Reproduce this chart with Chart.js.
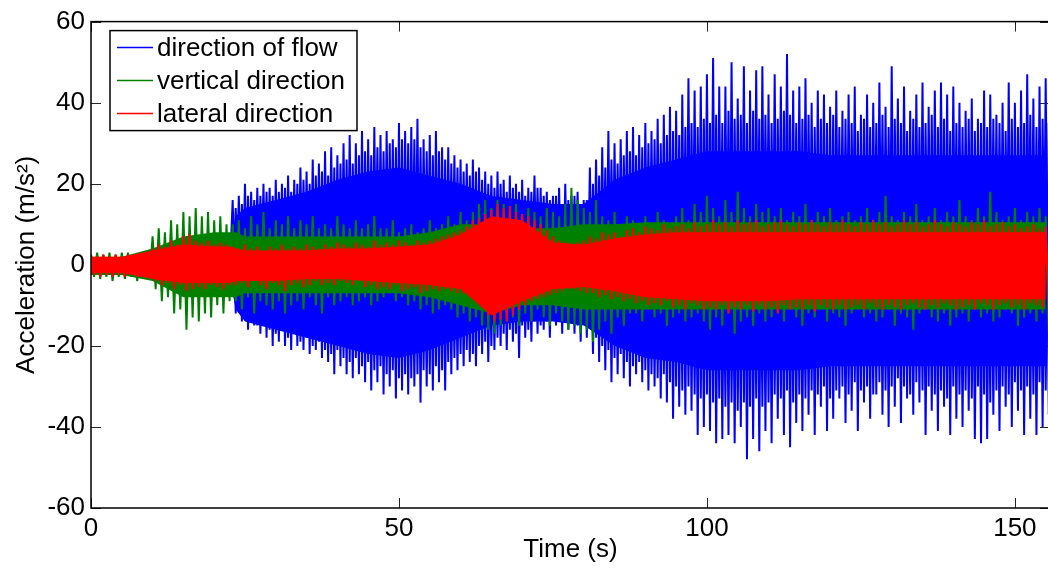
<!DOCTYPE html>
<html>
<head>
<meta charset="utf-8">
<title>Acceleration</title>
<script src="https://cdn.jsdelivr.net/npm/chart.js@4.4.1/dist/chart.umd.min.js"></script>
<style>
  html, body { margin: 0; padding: 0; background: #fff; overflow: hidden; }
  #wrap { width: 1048px; height: 569px; overflow: hidden; }
  canvas { display: block; }
</style>
</head>
<body>
<div id="wrap"><canvas id="accChart" width="1060" height="569"></canvas></div>
<script>
// Peak values, one per second (t = 0..155).
// "Hi" is the top of the oscillation at t, "Lo" the bottom half a second later.
const blueHi = [
  1.5,2,1.5,2,1.5,2,1.5,2,1.5,2,
  2,3,2.5,3,3.5,3,4,3.5,4,3.5,4,3.5,4,
  16,17,20,18,19,20,19,21,20,22,21,24,23,26,25,28,29,27,30,32,30,33,31,34,32,33,31,35,33,34,
  36,31,32,33,29,29,27,26,25,26,24,23,22,23,21,22,20,21,19,22,19,18,17,19,20,17,18,16,
  24,26,29,33,30,31,33,34,32,35,33,36,37,39,38,42,46,43,44,47,51,44,
  44,50,41,49,43,48,49,42,47,44,
  52,
  43,44,46,40,43,42,39,
  43,38,42,44,37,42,40,45,39,49,
  41,44,38,42,45,39,43,45,42,44,
  40,38,41,36,43,42,37,40,45,40,
  43,47,41,44,46
];
const blueLo = [
  -1.5,-2,-1.5,-2,-1.5,-2,-1.5,-2,-1.5,-2,
  -2,-3,-2.5,-3,-4,-3.5,-4,-3.5,-4,-3.5,-4,-3.5,-3,
  -12,-14,-16,-15,-17,-18,-20,-19,-20,-21,-20,-21,-22,-21,-23,-24,-27,-25,-27,-28,-27,-29,-31,-29,-32,-30,
  -33,-31,-32,-30,-34,-30,-31,-29,-31,-27,-26,-25,-24,-25,-22,-24,-21,-20,-21,-19,-23,-18,-19,-17,-16,-18,-15,-17,-16,-17,-19,-18,
  -22,-24,-26,-29,-27,-28,-30,-27,-29,-31,-30,-33,-34,-38,-35,-37,-36,-42,-40,-41,-44,-43,
  -42,-44,-40,-48,-43,-46,
  -41,-44,-38,-42,-45,-39,-41,
  -37,-42,-35,-41,-38,-33,-39,-36,-41,-34,
  -38,-32,-37,-40,-35,-39,-33,-37,-34,-42,
  -36,-41,-35,-42,-38,-40,-36,-43,-44,-43,
  -37,-41,-35,-40,-36,-42,-38,-42,-40,-37
];
// level of the dense blue spikes in between the tall ones (t = 0..155)
const blueMidHi = [
  1,1,1,1,1,1,1,1,1,1,
  2,2,2,2,2,2,2,2,2,2,2,2,2,
  14,15,17,16,17,18,17,18,
  19,18,20,21,20,22,23,22,24,25,
  26,25,27,28,27,29,28,30,29,31,
  30,31,29,28,27,28,26,
  25,24,23,22,23,21,20,19,
  20,18,19,18,17,18,19,17,16,17,15,16,17,15,16,
  20,22,24,26,25,27,28,27,29,30,
  31,30,32,33,32,34,35,34,36,35,
  37,35,38,36,37,35,38,36,37,35,
  36,38,37,35,36,37,34,36,35,37,
  34,36,35,33,36,34,35,37,34,36,
  35,33,36,34,35,37,34,36,33,35,
  34,36,33,35,34,36,35,33,36,34,
  35,37,34,36,35
];
const blueMidLo = [
  -1,-1,-1,-1,-1,-1,-1,-1,-1,-1,
  -2,-2,-2,-2,-2,-2,-2,-2,-2,-2,-2,-2,-2,
  -11,-13,-14,-15,-14,-16,-17,-16,
  -18,-17,-19,-18,-20,-19,-21,-22,-21,-23,
  -24,-23,-25,-24,-26,-25,-27,-26,-28,-27,
  -28,-27,-26,-27,-25,-26,-24,
  -23,-22,-21,-22,-20,-19,-20,-18,
  -17,-16,-17,-15,-16,-14,-15,-14,-13,-14,-13,-14,-15,-14,-15,
  -18,-20,-21,-23,-22,-24,-25,-24,-26,-27,
  -28,-27,-29,-30,-31,-30,-32,-33,-32,-34,
  -33,-35,-34,-36,-34,-35,-33,-35,-34,-32,
  -33,-31,-34,-32,-33,-31,-32,-30,-33,-31,
  -30,-32,-29,-31,-30,-32,-29,-31,-30,-28,
  -30,-32,-29,-31,-30,-32,-31,-33,-30,-32,
  -31,-33,-30,-32,-34,-31,-30,-32,-29,-31,
  -30,-32,-29,-31,-30
];
const greenHi = [
  2.5,3,2.5,3,2.5,3,3,2.5,3,3,
  7,9,8,11,10,13,12,
  14,12,13,11,12,10,
  10,11,9,12,10,13,9,11,10,12,9,11,10,12,9,
  10,9,12,10,9,11,9,10,12,9,
  9,11,8,9,10,8,9,11,9,10,
  12,10,13,11,13,
  15,16,14,16,15,
  13,15,12,14,13,
  12,14,13,12,15,
  19,16,14,
  13,16,12,11,13,10,12,
  11,9,12,10,13,11,10,12,14,11,
  15,13,17,14,12,16,13,18,14,12,15,13,14,
  12,14,11,13,12,15,11,13,12,14,11,12,13,11,12,
  14,11,13,17,12,11,13,12,15,11,12,14,11,13,12,
  16,12,11,14,12,18,13,11,12,14,11,13,12,14,12
];
const greenLo = [
  -3,-3.5,-3,-4,-3,-3.5,-3,-4,-3,-3.5,
  -6,-9,-8,-12,-11,-16,-13,
  -14,-12,-13,-10,-12,-9,
  -9,-11,-8,-12,-9,-10,-11,-9,-12,-10,-9,-11,-8,-10,-12,
  -8,-10,-9,-8,-10,-9,-8,-10,-9,-8,
  -7,-9,-8,-10,-9,-11,-10,-12,-11,-10,
  -11,-13,-12,-14,-13,
  -15,-16,-17,-15,-14,
  -13,-15,-12,-14,-11,
  -13,-15,-12,-14,-16,
  -15,-17,-16,
  -19,-16,-14,-17,-13,-15,-12,
  -12,-14,-11,-13,-12,-15,-13,-12,-14,-13,
  -12,-14,-16,-13,-15,-12,-17,-14,-13,-15,-12,-14,-13,
  -12,-14,-11,-13,-15,-12,-13,-11,-14,-12,-13,-15,-12,-11,-13,
  -12,-14,-13,-11,-15,-12,-13,-16,-12,-11,-13,-14,-12,-15,-13,
  -12,-14,-11,-13,-12,-14,-13,-11,-12,-15,-13,-12,-14,-12,-17
];
const redHi = [
  2.5,2,2.5,2,2.5,2,2.5,2,2.5,3,
  4,5,4.5,6,5,7,7.5,6,5.5,6,5,5.5,5,
  4.5,4,5,4,4.5,3.5,4.5,4,5,4,4.5,4,5,4.5,4,5,4.5,5.5,
  5,4.5,5.5,5,4.5,6,5,5.5,5,6,5.5,5,6,5.5,
  6,6.5,7,7.5,8,8.5,9.5,11,11.5,12.5,13.5,15,14,14.5,13,12.5,12,11,10,8.5,7,6,5.5,5,5.5,6,
  7,6.5,8,7.5,8,7,8.5,9,8,9.5,
  9,8.5,10,9,9.5,10,9,10.5,9.5,10,
  11,10,10.5,9.5,11,10,10.5,11,9.5,10,10.5,11,10,9.5,10.5,10,11,10,9.5,10.5,
  10,11,10,9.5,10.5,10,11,10,10.5,9.5,10,11,10,10.5,9.5,10,11,10,9.5,10.5,
  10,9.5,10.5,10,11,9.5,10,10.5,9.5,10,9,9.5,10,9,9.5
];
const redLo = [
  -2.5,-3,-2.5,-3,-2.5,-3,-2.5,-3,-2.5,-3,
  -4,-5,-4.5,-6,-5,-6.5,-6,-5.5,-6,-5,-5.5,-6,-5,
  -5,-4.5,-5.5,-4,-5,-6,-4.5,-5,-6.5,-5,-4.5,-5.5,-5,-4,-5,-4.5,-5,-4,
  -4.5,-5,-4,-5.5,-5,-6,-5.5,-6,-5,-6.5,-6,-5.5,-7,-6.5,
  -6,-6.5,-6,-6.5,-7,-7,-7.5,-9,-10.5,-12.5,-14,-13.5,-14,-12.5,-11,-10,-9,-8.5,-8,-7.5,-7,-6.5,-6,-6,-6.5,-7,
  -7,-8,-7.5,-8.5,-8,-9,-8.5,-9.5,-9,-10,
  -9.5,-10,-9,-10.5,-10,-11,-9.5,-10,-11,-10.5,
  -11,-10,-12,-10.5,-11,-10,-11.5,-10,-11,-10.5,-12,-10,-11,-10.5,-11,-10,-11.5,-10,-10.5,-11,
  -10,-11,-10.5,-10,-11,-9.5,-10.5,-11,-10,-10.5,-11,-10,-9.5,-10.5,-11,-10,-10.5,-9.5,-10,-11,
  -10.5,-10,-11,-9.5,-10,-11,-10,-9.5,-10.5,-10,-11,-9.5,-10,-10.5,-10
];

// Solid inner band of each signal, read at these times (s)
const coreTimes = [0,5,10,15,20,22.5,23.5,25,30,35,40,45,50,55,60,65,70,75,80,85,90,95,100,105,110,115,120,125,130,135,140,145,150,155];
const blueCoreHi  = [1.5,1.5,2,3,3,3,12,14,16,18,21,23,24,22,20,17,16,15,15,21,24,26,28,28,28,28,27,27,27,27,27,27,27,27];
const blueCoreLo  = [-1.5,-1.5,-2,-3,-3,-3,-11,-14,-16,-18,-20,-22,-23,-21,-18,-15,-14,-14,-15,-20,-23,-24,-26,-26,-26,-26,-25,-25,-25,-25,-25,-25,-25,-25];
const greenCoreHi = [2,2,4,7,8,8,8,7,7,7,7,7,7,8,10,10,9,9,10,10,10.5,10.5,10.5,10.5,10.5,10.5,10.5,10.5,10.5,10.5,10.5,10.5,10.5,10.5];
const greenCoreLo = [-2.5,-2.5,-4,-8,-8,-8,-8,-7,-7,-7,-7,-7,-7,-8,-10,-12,-10,-10,-11,-11,-11,-11,-11,-11,-11,-11,-11,-11,-11,-11,-11,-11,-11,-11];
const redCoreHi   = [2,2,3.5,5,4.5,4.5,4,3.5,3.5,3.5,4,4,4.5,5,7.5,12,11,5.5,5,6.5,7.5,8,8,8,8,8,8,8,8,8,8,8,8,8];
const redCoreLo   = [-2,-2,-3.5,-4.5,-4.5,-4.5,-4,-4,-4,-3.5,-3.5,-4,-4.5,-5,-6,-12.5,-9,-6,-5.5,-6.5,-8,-8.5,-9,-9,-9,-8.5,-8.5,-8.5,-8.5,-8.5,-8.5,-8.5,-8.5,-8.5];

const seriesLabels = ['direction of flow', 'vertical direction', 'lateral direction'];
const seriesColors = ['#0000ff', '#008000', '#ff0000'];
const yTicks = [-60, -40, -20, 0, 20, 40, 60];
const xTicks = [0, 50, 100, 150];

// one sample per second
const seconds = Array.from({ length: blueHi.length }, (_, i) => i);

const FONT = 'Arial, "Liberation Sans", Helvetica, sans-serif';

(function() {
    // up/down trace: peak at t + shift, trough half a second later
    function zigzag(hi, lo, shift) {
        const pts = [];
        seconds.forEach((t, i) => {
            pts.push({ x: t + shift, y: hi[i] });
            pts.push({ x: t + shift + 0.5, y: lo[i] });
        });
        return pts;
    }

    function coreLine(vals) {
        return coreTimes.map((t, i) => ({ x: t, y: vals[i] }));
    }

    function trace(points, color, label) {
        return {
            label: label,
            data: points,
            borderColor: color,
            backgroundColor: color,
            borderWidth: 2,
            borderJoinStyle: 'bevel',
            pointRadius: 0,
            fill: 'origin'
        };
    }

    const signals = [
        { hi: blueHi, lo: blueLo, midHi: blueMidHi, midLo: blueMidLo, coreHi: blueCoreHi, coreLo: blueCoreLo },
        { hi: greenHi, lo: greenLo, coreHi: greenCoreHi, coreLo: greenCoreLo },
        { hi: redHi, lo: redLo, coreHi: redCoreHi, coreLo: redCoreLo }
    ];

    const datasets = [];
    signals.forEach((s, k) => {
        const color = seriesColors[k];
        datasets.push({
            data: coreLine(s.coreHi),
            borderWidth: 0, pointRadius: 0,
            backgroundColor: color,
            fill: '+1'
        });
        datasets.push({
            data: coreLine(s.coreLo),
            borderWidth: 0, pointRadius: 0,
            fill: false
        });
        if (s.midHi) {
            // in-between spikes sit where the tall trace has its troughs
            datasets.push(trace(zigzag(s.midHi, s.midLo, 0.5), color, ''));
        }
        datasets.push(trace(zigzag(s.hi, s.lo, 0), color, seriesLabels[k]));
    });
    // draw in array order: blue first, red on top
    datasets.forEach((d, i) => { d.order = datasets.length - i; });

    // MATLAB style box with inward ticks
    const axesFrame = {
        id: 'axesFrame',
        beforeDatasetsDraw(chart) {
            const { ctx, chartArea: a, scales: { x, y } } = chart;
            ctx.save();
            ctx.strokeStyle = '#262626';
            ctx.lineWidth = 1;
            ctx.beginPath();
            xTicks.forEach(v => {
                const px = Math.round(x.getPixelForValue(v)) + 0.5;
                ctx.moveTo(px, a.bottom); ctx.lineTo(px, a.bottom - 10);
                ctx.moveTo(px, a.top); ctx.lineTo(px, a.top + 10);
            });
            yTicks.forEach(v => {
                const py = Math.round(y.getPixelForValue(v)) + 0.5;
                ctx.moveTo(a.left, py); ctx.lineTo(a.left + 10, py);
                ctx.moveTo(a.right, py); ctx.lineTo(a.right - 10, py);
            });
            ctx.stroke();
            ctx.restore();
        },
        afterDatasetsDraw(chart) {
            const { ctx, chartArea: a } = chart;
            ctx.save();
            ctx.strokeStyle = '#000';
            ctx.lineWidth = 1.5;
            ctx.strokeRect(a.left, a.top, a.right - a.left, a.bottom - a.top);
            ctx.restore();
        }
    };

    // legend drawn inside the axes, top left
    const boxLegend = {
        id: 'boxLegend',
        afterDraw(chart) {
            const { ctx, chartArea: a } = chart;
            const items = chart.data.datasets.filter(d => d.label);
            const bx = a.left + 19, by = a.top + 9, bw = 247, bh = 100;
            ctx.save();
            ctx.fillStyle = '#fff';
            ctx.fillRect(bx, by, bw, bh);
            ctx.strokeStyle = '#000';
            ctx.lineWidth = 1.5;
            ctx.strokeRect(bx, by, bw, bh);
            ctx.font = '26px ' + FONT;
            ctx.textBaseline = 'middle';
            items.forEach((d, i) => {
                const cy = by + 17 + i * 33;
                ctx.strokeStyle = d.borderColor;
                ctx.lineWidth = 1.5;
                ctx.beginPath();
                ctx.moveTo(bx + 7, cy);
                ctx.lineTo(bx + 43, cy);
                ctx.stroke();
                ctx.fillStyle = '#000';
                ctx.fillText(d.label, bx + 47, cy + 1);
            });
            ctx.restore();
        }
    };

    const tickFont = { family: FONT, size: 26 };

    new Chart(document.getElementById('accChart').getContext('2d'), {
        type: 'line',
        data: { datasets },
        options: {
            responsive: false,
            animation: false,
            events: [],
            layout: { padding: { top: 18, right: 10, left: 0, bottom: 0 } },
            elements: { line: { tension: 0 } },
            plugins: {
                legend: { display: false },
                tooltip: { enabled: false }
            },
            scales: {
                x: {
                    type: 'linear',
                    min: 0,
                    max: 155.7,
                    grid: { display: false, drawTicks: false },
                    border: { display: false },
                    afterBuildTicks: scale => { scale.ticks = xTicks.map(v => ({ value: v })); },
                    ticks: { font: tickFont, color: '#000', padding: 5, maxRotation: 0, autoSkip: false },
                    title: {
                        display: true, text: 'Time (s)', color: '#000',
                        font: tickFont, padding: { top: 0, bottom: 4 }
                    },
                    afterFit: scale => { scale.height = 61; }
                },
                y: {
                    type: 'linear',
                    min: -60,
                    max: 60,
                    grid: { display: false, drawTicks: false },
                    border: { display: false },
                    afterBuildTicks: scale => { scale.ticks = yTicks.map(v => ({ value: v })); },
                    ticks: { font: tickFont, color: '#000', padding: 6 },
                    title: {
                        display: true, text: 'Acceleration (m/s\u00B2)', color: '#000',
                        font: tickFont, padding: { top: 11, bottom: 0 }
                    },
                    afterFit: scale => { scale.width = 91; }
                }
            }
        },
        plugins: [axesFrame, boxLegend]
    });
})();
</script>
</body>
</html>
